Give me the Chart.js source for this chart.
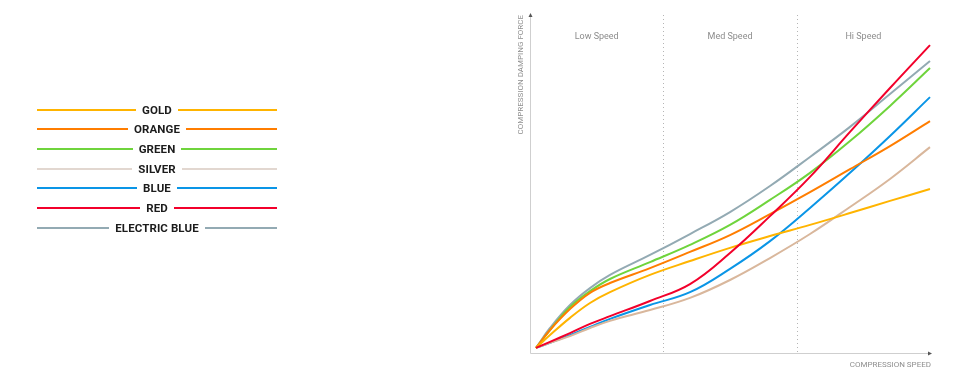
<!DOCTYPE html>
<html>
<head>
<meta charset="utf-8">
<script src="https://cdn.jsdelivr.net/npm/chart.js@4.4.1/dist/chart.umd.min.js"></script>
<style>
    html, body { margin: 0; padding: 0; background: #fff; }
    #wrap { position: relative; width: 970px; height: 376px; }
    #damperChart { position: absolute; left: 0; top: 0; }
    #legend { position: absolute; left: 37px; top: 100px; width: 240px; font-family: Roboto, sans-serif; }
    .row { display: flex; align-items: center; height: 19.67px; }
    .row .ln { flex: 1; height: 2px; }
    .row .lb { padding: 0 6px; font-size: 11.5px; font-weight: 700; color: #1c1c1c; letter-spacing: 0.1px; }
</style>
</head>
<body>
<div id="wrap">
    <canvas id="damperChart" width="970" height="376"></canvas>
    <div id="legend"></div>
</div>
<script>
// compression speed (0-100 of the x axis)
const speeds = [1.5, 5, 10, 15, 20, 30, 40, 50, 60, 70, 80, 90, 100];

// damping force (0-100 of the y axis)
const gold = [1.5, 5.3, 10.4, 14.8, 18.0, 23.1, 27.2, 31.1, 34.6, 37.9, 41.4, 45.0, 48.5];
const orange = [1.5, 6.8, 13.0, 17.8, 20.7, 25.1, 29.9, 34.9, 41.1, 47.6, 54.4, 61.2, 68.6];
const green = [1.5, 6.8, 13.6, 18.3, 21.9, 26.9, 32.0, 37.9, 45.3, 53.3, 62.7, 73.1, 84.3];
const silver = [1.5, 3.0, 5.0, 7.4, 9.5, 12.7, 16.3, 21.6, 28.1, 35.2, 43.2, 51.5, 60.9];
const blue = [1.5, 3.0, 5.3, 7.7, 10.1, 14.2, 18.0, 24.9, 33.1, 42.9, 53.3, 64.2, 75.7];
const red = [1.5, 3.3, 5.9, 8.6, 10.9, 15.4, 20.4, 29.6, 40.5, 52.1, 65.4, 78.4, 91.1];
const electricBlue = [1.5, 7.4, 14.2, 19.2, 23.1, 29.0, 35.2, 41.7, 49.4, 58.0, 66.9, 76.6, 86.4];

const seriesNames = ["GOLD", "ORANGE", "GREEN", "SILVER", "BLUE", "RED", "ELECTRIC BLUE"];
const seriesData = [gold, orange, green, silver, blue, red, electricBlue];
const lineColors = ["#ffb400", "#ff7d00", "#6fd43c", "#d9b79c", "#0a95e6", "#f2002b", "#93aab3"];
const legendColors = ["#ffb400", "#ff7d00", "#6fd43c", "#e2d7d0", "#0a95e6", "#f2002b", "#93aab3"];

// speed ranges
const zoneNames = ["Low Speed", "Med Speed", "Hi Speed"];
const zoneEdges = [0, 33.33, 66.67, 100];

const yTitle = "COMPRESSION DAMPING FORCE";
const xTitle = "COMPRESSION SPEED";

// legend
const legendEl = document.getElementById("legend");
seriesNames.forEach((name, i) => {
    const row = document.createElement("div");
    row.className = "row";
    row.innerHTML = `<span class="ln" style="background:${legendColors[i]}"></span>` +
        `<span class="lb">${name}</span>` +
        `<span class="ln" style="background:${legendColors[i]}"></span>`;
    legendEl.appendChild(row);
});

const axesPlugin = {
    id: "axesPlugin",
    beforeDatasetsDraw(chart) {
        const { ctx, chartArea: a, scales: { x } } = chart;
        ctx.save();

        // speed zone dividers
        ctx.strokeStyle = "#b5b5b5";
        ctx.lineWidth = 1;
        ctx.setLineDash([1, 3]);
        zoneEdges.slice(1, -1).forEach((v) => {
            const px = Math.round(x.getPixelForValue(v)) + 0.5;
            ctx.beginPath();
            ctx.moveTo(px, a.top);
            ctx.lineTo(px, a.bottom);
            ctx.stroke();
        });
        ctx.setLineDash([]);

        // axes
        ctx.strokeStyle = "#cfcfcf";
        ctx.beginPath();
        ctx.moveTo(a.left + 0.5, a.top);
        ctx.lineTo(a.left + 0.5, a.bottom + 0.5);
        ctx.lineTo(a.right, a.bottom + 0.5);
        ctx.stroke();

        ctx.fillStyle = "#555";
        ctx.beginPath();
        ctx.moveTo(a.left + 0.5, a.top - 2);
        ctx.lineTo(a.left - 1.5, a.top + 2);
        ctx.lineTo(a.left + 2.5, a.top + 2);
        ctx.fill();
        ctx.beginPath();
        ctx.moveTo(a.right + 2, a.bottom + 0.5);
        ctx.lineTo(a.right - 2, a.bottom - 1.5);
        ctx.lineTo(a.right - 2, a.bottom + 2.5);
        ctx.fill();

        // zone labels
        ctx.fillStyle = "#8c8c8c";
        ctx.font = "9px Roboto, sans-serif";
        ctx.textAlign = "center";
        ctx.textBaseline = "middle";
        zoneNames.forEach((name, i) => {
            const cx = (x.getPixelForValue(zoneEdges[i]) + x.getPixelForValue(zoneEdges[i + 1])) / 2;
            ctx.fillText(name, cx, 37);
        });

        // axis titles
        ctx.font = "8px Roboto, sans-serif";
        ctx.fillStyle = "#8f8f8f";
        ctx.textAlign = "right";
        ctx.fillText(xTitle, a.right + 1, a.bottom + 12);

        ctx.translate(a.left - 9, a.top);
        ctx.rotate(-Math.PI / 2);
        ctx.textAlign = "right";
        ctx.fillText(yTitle, 0, 0);
        ctx.restore();
    },
};

const ctx = document.getElementById("damperChart").getContext("2d");
new Chart(ctx, {
    type: "line",
    data: {
        datasets: seriesNames.map((name, i) => ({
            label: name,
            data: seriesData[i].map((v, j) => ({ x: speeds[j], y: v })),
            borderColor: lineColors[i],
            borderWidth: 2,
            pointRadius: 0,
            fill: false,
            tension: 0.4,
            order: name === "RED" ? -1 : 0,
        })),
    },
    options: {
        responsive: false,
        animation: false,
        clip: false,
        layout: { padding: { left: 530, right: 40, top: 15, bottom: 23 } },
        plugins: {
            legend: { display: false },
            tooltip: { enabled: false },
        },
        scales: {
            x: { type: "linear", min: 0, max: 100, display: false },
            y: { min: 0, max: 100, display: false },
        },
    },
    plugins: [axesPlugin],
});
</script>
</body>
</html>
